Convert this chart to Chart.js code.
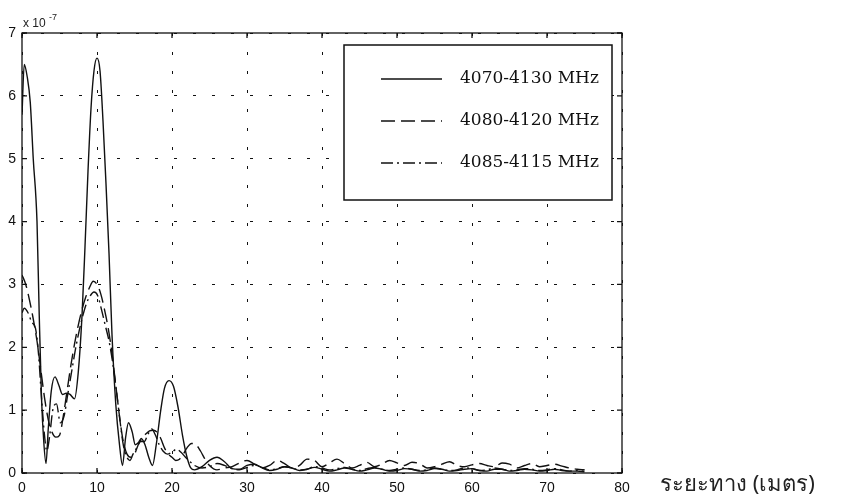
<!DOCTYPE html>
<html>
<head>
<meta charset="utf-8">
<title>chart</title>
<script src="https://cdn.jsdelivr.net/npm/chart.js@4.4.0/dist/chart.umd.min.js"></script>
<style>
body { margin: 0; background: #fff; }
</style>
</head>
<body>
<canvas id="myChart" width="866" height="500"></canvas>
<script>
// data (values are x 10^-7)
const seriesNames = ['4070-4130 MHz', '4080-4120 MHz', '4085-4115 MHz']
const xTicks = [0, 10, 20, 30, 40, 50, 60, 70, 80]
const yTicks = [0, 1, 2, 3, 4, 5, 6, 7]

const solidX = [0, 0.3, 0.7, 1.1, 1.5, 2.0, 2.3, 2.6, 2.9, 3.2, 3.5, 3.9, 4.4, 4.9, 5.4, 5.9, 6.4, 7.0, 7.5, 8.0, 8.4, 8.8, 9.2, 9.6, 10.0,
    10.4, 10.8, 11.2, 11.6, 12.0, 12.5, 13.0, 13.4, 13.8, 14.2, 14.7, 15.1, 15.5, 15.9, 16.4, 16.9, 17.4, 17.9, 18.5, 19.0, 19.6,
    20.2, 20.8, 21.4, 22.0, 22.5, 23, 24, 25, 26, 27, 28, 29, 30, 31, 32, 33, 34, 35, 36, 37, 38, 39, 40, 41, 42, 43, 44, 45, 46,
    47, 48, 49, 50, 51, 52, 53, 54, 55, 56, 57, 58, 59, 60, 61, 62, 63, 64, 65, 66, 67, 68, 69, 70, 71, 72, 73, 74, 75]
const solidY = [5.7, 6.5, 6.3, 5.9, 5.0, 4.0, 2.5, 1.2, 0.5, 0.15, 0.7, 1.3, 1.53, 1.4, 1.25, 1.27, 1.25, 1.18, 1.6, 2.5, 3.6, 4.8, 5.8, 6.4, 6.6,
    6.4, 5.6, 4.6, 3.5, 2.2, 1.1, 0.45, 0.12, 0.55, 0.8, 0.65, 0.45, 0.48, 0.55, 0.45, 0.25, 0.12, 0.45, 1.0, 1.35, 1.47,
    1.38, 1.05, 0.6, 0.25, 0.08, 0.05, 0.1, 0.2, 0.25, 0.18, 0.07, 0.06, 0.12, 0.14, 0.08, 0.04, 0.06, 0.1, 0.08, 0.04, 0.06, 0.09, 0.06, 0.03, 0.05, 0.08, 0.06, 0.03, 0.05,
    0.08, 0.06, 0.03, 0.04, 0.07, 0.06, 0.03, 0.04, 0.07, 0.06, 0.03, 0.04, 0.06, 0.07, 0.04, 0.03, 0.06, 0.06, 0.03, 0.04, 0.06, 0.05, 0.03, 0.04, 0.06, 0.04, 0.03, 0.03, 0.02]

const dashX = [0, 0.5, 1.0, 1.5, 2.0, 2.5, 3.0, 3.5, 4.0, 4.5, 5.0, 5.5, 6.0, 6.5, 7.0, 7.5, 8.0, 8.5, 9.0, 9.5, 10.0, 10.5, 11.0, 11.5,
    12.0, 12.5, 13.0, 13.5, 14.0, 14.5, 15.0, 15.5, 16.0, 16.5, 17.0, 17.5, 18.0, 18.5, 19.0, 19.5, 20.0, 20.5, 21.0, 21.5, 22.0,
    22.6, 23.2, 23.8, 24.4, 25, 26, 27, 28, 29, 30, 31, 32, 33, 34, 35, 36, 37, 38, 39, 40, 41, 42, 43, 44, 45, 46, 47, 48, 49, 50,
    51, 52, 53, 54, 55, 56, 57, 58, 59, 60, 61, 62, 63, 64, 65, 66, 67, 68, 69, 70, 71, 72, 73, 74, 75]
const dashY = [3.15, 3.0, 2.75, 2.45, 2.1, 1.65, 1.2, 0.85, 0.65, 0.57, 0.6, 0.9, 1.3, 1.7, 2.05, 2.35, 2.6, 2.8, 2.95, 3.05, 3.0, 2.85, 2.6, 2.3,
    1.9, 1.4, 0.9, 0.5, 0.3, 0.25, 0.3, 0.45, 0.55, 0.62, 0.67, 0.68, 0.65, 0.55, 0.4, 0.3, 0.25, 0.2, 0.22, 0.3, 0.4,
    0.47, 0.45, 0.35, 0.22, 0.12, 0.05, 0.08, 0.1, 0.16, 0.2, 0.14, 0.08, 0.12, 0.2, 0.15, 0.08, 0.12, 0.22, 0.2, 0.1, 0.16, 0.22, 0.15, 0.08, 0.12, 0.17, 0.1, 0.14, 0.2, 0.16,
    0.12, 0.17, 0.15, 0.08, 0.1, 0.14, 0.18, 0.12, 0.1, 0.13, 0.15, 0.12, 0.1, 0.16, 0.14, 0.08, 0.12, 0.15, 0.1, 0.12, 0.14, 0.11, 0.08, 0.06, 0.05]

const dotX = [0, 0.3, 0.8, 1.3, 1.8, 2.2, 2.6, 3.0, 3.3, 3.7, 4.1, 4.6, 5.1, 5.6, 6.1, 6.6, 7.1, 7.6, 8.1, 8.6, 9.1, 9.6, 10.1, 10.6,
    11.1, 11.6, 12.1, 12.6, 13.1, 13.5, 14.0, 14.4, 14.8, 15.3, 15.8, 16.3, 16.8, 17.3, 17.8, 18.3, 18.8, 19.4, 20.0, 20.6, 21.2,
    21.8, 22.4, 23, 24, 25, 26, 27, 28, 29, 30, 31, 32, 33, 34, 35, 36, 37, 38, 39, 40, 41, 42, 43, 44, 45, 46, 47, 48, 49, 50,
    51, 52, 53, 54, 55, 56, 57, 58, 59, 60, 61, 62, 63, 64, 65, 66, 67, 68, 69, 70, 71, 72, 73, 74, 75]
const dotY = [2.55, 2.62, 2.55, 2.4, 2.3, 1.9, 1.2, 0.6, 0.35, 0.6, 1.0, 1.1, 0.8, 0.9, 1.25, 1.6, 1.95, 2.25, 2.5, 2.7, 2.82, 2.88, 2.82, 2.6,
    2.35, 2.1, 1.75, 1.3, 0.8, 0.45, 0.25, 0.2, 0.3, 0.4, 0.5, 0.5, 0.62, 0.7, 0.6, 0.45, 0.35, 0.3, 0.33, 0.38, 0.33,
    0.25, 0.18, 0.12, 0.08, 0.1, 0.15, 0.12, 0.07, 0.05, 0.09, 0.12, 0.09, 0.05, 0.07, 0.1, 0.08, 0.05, 0.06, 0.1, 0.08, 0.05, 0.07, 0.09, 0.06, 0.04, 0.07, 0.09, 0.06, 0.04, 0.06,
    0.08, 0.06, 0.04, 0.05, 0.08, 0.06, 0.04, 0.05, 0.08, 0.07, 0.04, 0.05, 0.08, 0.06, 0.04, 0.05, 0.07, 0.06, 0.04, 0.05, 0.07, 0.05, 0.03, 0.04, 0.05]

function toPoints(xs, ys) {
    return xs.map((x, i) => ({x: x, y: ys[i]}))
}

const dashes = [[], [14, 6], [12, 4, 2, 4]]

// box, inner ticks, legend, labels
const framePlugin = {
    id: 'frame',
    afterDraw(chart) {
        const ctx = chart.ctx
        const a = chart.chartArea
        const xs = chart.scales.x
        const ys = chart.scales.y
        ctx.save()
        ctx.strokeStyle = '#111'
        ctx.lineWidth = 1.3
        ctx.setLineDash([])
        ctx.strokeRect(a.left, a.top, a.right - a.left, a.bottom - a.top)
        ctx.beginPath()
        xTicks.forEach(v => {
            let px = xs.getPixelForValue(v)
            ctx.moveTo(px, a.bottom); ctx.lineTo(px, a.bottom - 5)
            ctx.moveTo(px, a.top); ctx.lineTo(px, a.top + 5)
        })
        yTicks.forEach(v => {
            let py = ys.getPixelForValue(v)
            ctx.moveTo(a.left, py); ctx.lineTo(a.left + 5, py)
            ctx.moveTo(a.right, py); ctx.lineTo(a.right - 5, py)
        })
        ctx.stroke()

        // legend
        ctx.fillStyle = '#fff'
        ctx.fillRect(344, 45, 268, 155)
        ctx.lineWidth = 1.5
        ctx.strokeRect(344, 45, 268, 155)
        const rows = [79, 121, 163]
        chart.data.datasets.forEach((ds, i) => {
            ctx.beginPath()
            ctx.lineWidth = 1.5
            ctx.setLineDash(ds.borderDash)
            ctx.moveTo(381, rows[i]); ctx.lineTo(442, rows[i])
            ctx.stroke()
            ctx.setLineDash([])
            ctx.fillStyle = '#111'
            ctx.font = '17px "DejaVu Serif", serif'
            ctx.textBaseline = 'middle'
            ctx.fillText(ds.label, 460, rows[i])
        })

        // multiplier
        ctx.fillStyle = '#222'
        ctx.font = '12px "Liberation Sans", Arial, sans-serif'
        ctx.textBaseline = 'alphabetic'
        ctx.fillText('x 10', 23, 27)
        ctx.font = '9px "Liberation Sans", Arial, sans-serif'
        ctx.fillText('-7', 49, 20)

        // x axis title
        ctx.font = '22px "Noto Sans", "DejaVu Sans", sans-serif'
        ctx.textBaseline = 'middle'
        ctx.fillText('ระยะทาง (เมตร)', 660, 485)
        ctx.restore()
    }
}

const ctx = document.getElementById('myChart')
const myChart = new Chart(ctx, {
    type: 'scatter',
    data: {
        datasets: [
            {label: seriesNames[0], data: toPoints(solidX, solidY), borderDash: dashes[0]},
            {label: seriesNames[1], data: toPoints(dashX, dashY), borderDash: dashes[1]},
            {label: seriesNames[2], data: toPoints(dotX, dotY), borderDash: dashes[2]},
        ].map(ds => Object.assign(ds, {
            showLine: true,
            borderColor: '#111',
            borderWidth: 1.4,
            pointRadius: 0,
            cubicInterpolationMode: 'monotone',
        }))
    },
    options: {
        responsive: false,
        animation: false,
        layout: {padding: {top: 33, right: 244, bottom: 0, left: 0}},
        plugins: {legend: {display: false}, tooltip: {enabled: false}},
        scales: {
            x: {
                type: 'linear', min: 0, max: 80,
                afterFit(scale) { scale.height = 27 },
                afterBuildTicks(scale) { scale.ticks = xTicks.map(v => ({value: v})) },
                grid: {color: '#111', lineWidth: 1, drawTicks: false},
                border: {display: false, dash: [3, 16]},
                ticks: {color: '#111', padding: 7, font: {family: '"Liberation Sans", Arial, sans-serif', size: 14}, maxRotation: 0}
            },
            y: {
                type: 'linear', min: 0, max: 7,
                afterFit(scale) { scale.width = 22 },
                afterBuildTicks(scale) { scale.ticks = yTicks.map(v => ({value: v})) },
                grid: {color: '#111', lineWidth: 1, drawTicks: false},
                border: {display: false, dash: [3, 16]},
                ticks: {color: '#111', padding: 6, font: {family: '"Liberation Sans", Arial, sans-serif', size: 14}}
            }
        }
    },
    plugins: [framePlugin]
})
</script>
</body>
</html>
